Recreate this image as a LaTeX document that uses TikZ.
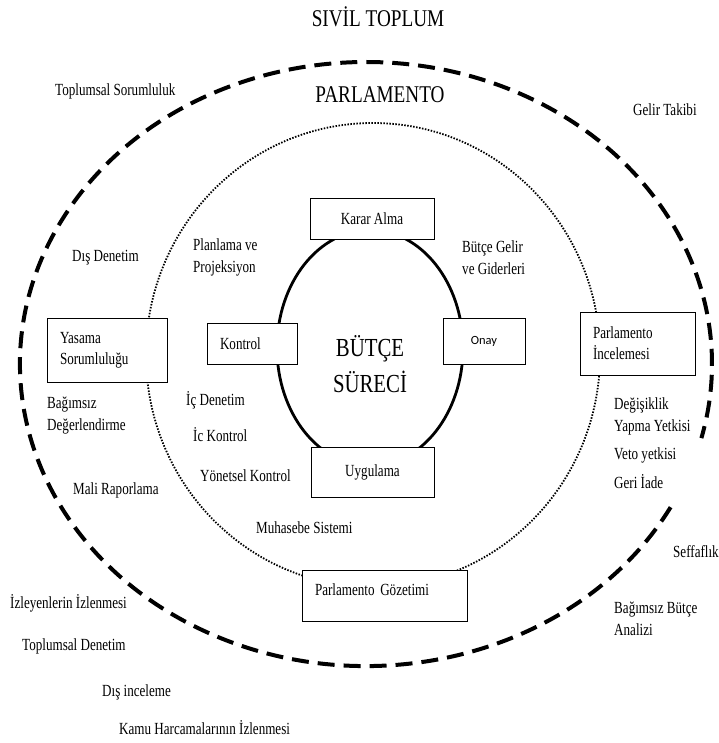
\documentclass[tikz,border=0pt]{standalone}
\usepackage{fontspec}
\setmainfont{Liberation Serif}[FakeStretch=0.77]
\newfontfamily\bigfont{Liberation Serif}[FakeStretch=0.8]
\newfontfamily\onayfont{Carlito}
\begin{document}
\begin{tikzpicture}[x=1pt,y=1pt,yscale=-1,
  lbl/.style={anchor=west,inner sep=0pt,align=left,font=\fontsize{17}{22}\selectfont},
  big/.style={inner sep=0pt,align=center,font=\bigfont\fontsize{24}{30}\selectfont},
  bx/.style={draw,fill=white,line width=0.9pt,inner ysep=0pt,font=\fontsize{17}{21}\selectfont},
  bxc/.style={bx,align=center,inner xsep=0pt},
  bxl/.style={bx,inner xsep=13pt},
]
\useasboundingbox (0,0) rectangle (718,743);
% outer dashed ellipse (civil society)
\draw[line width=4pt,dash pattern=on 17pt off 9pt] (670.6,507.2) arc[start angle=28.3,end angle=374.2,x radius=346pt,y radius=302pt];
% dotted ellipse (parliament)
\draw[line width=1.8pt,dash pattern=on 1.5pt off 1.5pt] (373,355) ellipse[x radius=227pt,y radius=232pt];
% inner ellipse (budget process)
\draw[line width=2.8pt] (370,348) ellipse[x radius=93pt,y radius=118pt];

% boxes
\node[bxc,minimum width=124pt,minimum height=41pt] (karar) at (372,218.5) {Karar Alma};
\node[bxl,text width=64pt,minimum height=41pt] (kontrol) at (252,343.5) {Kontrol};
\node[bxc,minimum width=82pt,minimum height=46pt,font=\onayfont\fontsize{12.5}{15}\selectfont] (onay) at (484,341) {Onay};
\node[bxc,minimum width=123pt,minimum height=50pt] (uyg) at (372.5,472) {Uygulama};
\node[bxl,text width=139pt,minimum height=51pt,text height=12pt,text depth=14pt] (gozetim) at (384.5,596) {\mbox{Parlamento Gözetimi}};
\node[bxl,text width=94pt,minimum height=64pt] (yasama) at (107,350) {Yasama\\Sorumluluğu};
\node[bxl,text width=89pt,minimum height=63pt] (inceleme) at (637.5,343.5) {Parlamento\\İncelemesi};

% titles
\node[big] (sivil) at (378,17) {SIVİL TOPLUM};
\node[big] (parl) at (380,95) {PARLAMENTO};
\node[inner sep=0pt,align=center,font=\bigfont\fontsize{26}{36}\selectfont] (butce) at (370,364) {BÜTÇE\\SÜRECİ};

% labels
\node[lbl] (l1) at (55,91) {Toplumsal Sorumluluk};
\node[lbl] (l2) at (633,110) {Gelir Takibi};
\node[lbl] (l3) at (72,258) {Dış Denetim};
\node[lbl] (l4) at (193,257.5) {Planlama ve\\Projeksiyon};
\node[lbl] (l5) at (462,257.5) {Bütçe Gelir\\ve Giderleri};
\node[lbl] (l6) at (47,416) {Bağımsız\\Değerlendirme};
\node[lbl] (l7) at (186,400) {İç Denetim};
\node[lbl] (l8) at (193,435) {İc Kontrol};
\node[lbl] (l9) at (200,476) {Yönetsel Kontrol};
\node[lbl] (l10) at (73,490) {Mali Raporlama};
\node[lbl] (l11) at (256,528) {Muhasebe Sistemi};
\node[lbl] (l12) at (614,416) {Değişiklik\\Yapma Yetkisi};
\node[lbl] (l13) at (614,455) {Veto yetkisi};
\node[lbl] (l14) at (614,482) {Geri İade};
\node[lbl] (l15) at (673,552) {Seffaflık};
\node[lbl] (l16) at (614,618.5) {Bağımsız Bütçe\\Analizi};
\node[lbl] (l17) at (10,603) {İzleyenlerin İzlenmesi};
\node[lbl] (l18) at (22,646) {Toplumsal Denetim};
\node[lbl] (l19) at (102,692) {Dış inceleme};
\node[lbl] (l20) at (119,728) {Kamu Harcamalarının İzlenmesi};
\end{tikzpicture}
\end{document}
